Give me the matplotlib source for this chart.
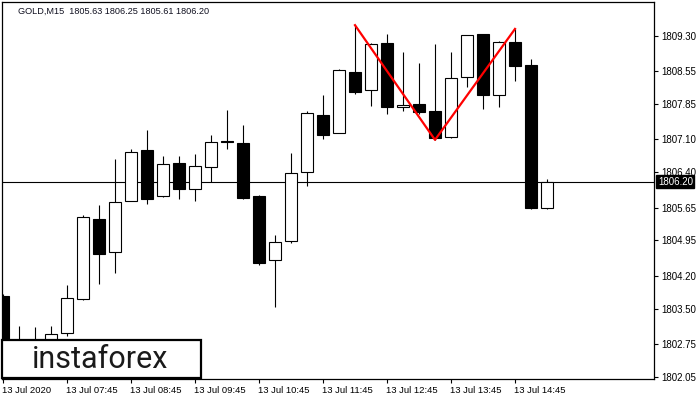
import matplotlib
matplotlib.use("Agg")
import matplotlib.pyplot as plt
import matplotlib.transforms as mtransforms
from matplotlib.patches import Rectangle

# 15-minute GOLD candles, 13 Jul 2020 06:45 .. 15:15
opens = [1803.77, 1802.70, 1802.65, 1802.70, 1802.98, 1803.70, 1805.41, 1804.70, 1805.79,
         1806.87, 1805.90, 1806.60, 1806.04, 1806.51, 1807.05, 1807.02, 1805.90, 1804.53,
         1804.94, 1806.41, 1807.62, 1807.24, 1808.53, 1808.15, 1809.15, 1807.79, 1807.85,
         1807.70, 1807.15, 1808.43, 1809.34, 1808.04, 1809.17, 1808.68, 1805.63]
highs = [1803.81, 1803.13, 1803.11, 1803.13, 1804.00, 1805.49, 1805.70, 1806.68, 1806.90,
         1807.30, 1806.75, 1806.75, 1806.79, 1807.19, 1807.73, 1807.41, 1805.92, 1805.07,
         1806.81, 1807.70, 1808.04, 1808.60, 1809.53, 1809.15, 1809.34, 1808.96, 1808.73,
         1809.13, 1808.96, 1809.32, 1809.34, 1809.19, 1809.45, 1808.81, 1806.25]
lows = [1802.30, 1802.40, 1802.45, 1802.60, 1802.92, 1803.69, 1804.02, 1804.26, 1805.78,
        1805.73, 1805.87, 1805.83, 1805.79, 1806.19, 1806.90, 1805.83, 1804.43, 1803.53,
        1804.90, 1806.11, 1807.11, 1807.24, 1808.07, 1807.81, 1807.64, 1807.70, 1807.64,
        1807.09, 1807.13, 1808.21, 1807.75, 1807.79, 1808.34, 1805.62, 1805.61]
closes = [1802.45, 1802.55, 1802.60, 1802.96, 1803.73, 1805.45, 1804.66, 1805.77, 1806.83,
          1805.83, 1806.58, 1806.04, 1806.53, 1807.04, 1807.04, 1805.85, 1804.47, 1804.92,
          1806.39, 1807.66, 1807.19, 1808.58, 1808.11, 1809.13, 1807.79, 1807.83, 1807.68,
          1807.13, 1808.41, 1809.32, 1808.04, 1809.17, 1808.66, 1805.64, 1806.20]

# double top pattern: high - low - high
pattern_idx = [22, 27, 32]
pattern_price = [1809.53, 1807.09, 1809.45]

last_price = 1806.20
y_ticks = [1809.30, 1808.55, 1807.85, 1807.10, 1806.40, 1805.65,
           1804.95, 1804.20, 1803.50, 1802.75, 1802.05]
x_tick_idx = [0, 4, 8, 12, 16, 20, 24, 28, 32]
x_tick_labels = ['13 Jul 2020', '13 Jul 07:45', '13 Jul 08:45', '13 Jul 09:45', '13 Jul 10:45',
                 '13 Jul 11:45', '13 Jul 12:45', '13 Jul 13:45', '13 Jul 14:45']

plt.rcParams['font.family'] = ['Liberation Sans', 'DejaVu Sans']

fig = plt.figure(figsize=(7, 4), dpi=100)
ax = fig.add_axes([2 / 700, 1 - 379 / 400, 652 / 700, 377 / 400])

xs = list(range(len(opens)))
ax.vlines(xs, lows, highs, color='black', linewidth=0.8, zorder=2)
for i in xs:
    up = closes[i] >= opens[i]
    bottom = min(opens[i], closes[i])
    h = max(abs(closes[i] - opens[i]), 0.02)
    ax.bar(i, h, bottom=bottom, width=0.69, color='white' if up else 'black',
           edgecolor='black', linewidth=0.8, zorder=3)

ax.plot(pattern_idx, pattern_price, color='red', linewidth=1.6, zorder=4)
ax.axhline(last_price, color='black', linewidth=0.8, zorder=1)

ax.set_xlim(-1 / 16, 651 / 16)
ax.set_ylim(1802.002, 1810.023)

ax.yaxis.tick_right()
ax.set_yticks(y_ticks)
ax.set_yticklabels([f'{v:.2f}' for v in y_ticks])
ax.tick_params(axis='y', direction='out', length=3, width=0.8, labelsize=7, pad=2)
ax.set_xticks(x_tick_idx)
ax.set_xticklabels(x_tick_labels, ha='left')
ax.tick_params(axis='x', direction='out', length=3, width=0.8, labelsize=6.8, pad=2)
offset = mtransforms.ScaledTranslation(-1 / 100, 0, fig.dpi_scale_trans)
for lbl in ax.get_xticklabels():
    lbl.set_transform(lbl.get_transform() + offset)
for sp in ax.spines.values():
    sp.set_linewidth(0.9)

# current price tag
trans = mtransforms.blended_transform_factory(ax.transAxes, ax.transData)
ax.text(1.006, last_price, f'{last_price:.2f}', transform=trans, color='white', fontsize=7,
        va='center', ha='left', zorder=5,
        bbox=dict(boxstyle='square,pad=0.15', facecolor='black', edgecolor='black'))

fig.text(18 / 700, 1 - 11 / 400, 'GOLD,M15  1805.63 1806.25 1805.61 1806.20',
         fontsize=6.6, va='center', ha='left', color='#101020')

# logo box
fig.patches.append(Rectangle((2 / 700, 1 - 378 / 400), 199 / 700, 38 / 400,
                             transform=fig.transFigure, facecolor='white', edgecolor='black',
                             linewidth=1.6, zorder=10))
fig.text(100 / 700, 1 - 360 / 400, 'instaforex', fontsize=22, family='Roboto',
         weight='normal', color='#1a1a1a', ha='center', va='center', zorder=11)

fig.savefig('out.png', dpi=100)
